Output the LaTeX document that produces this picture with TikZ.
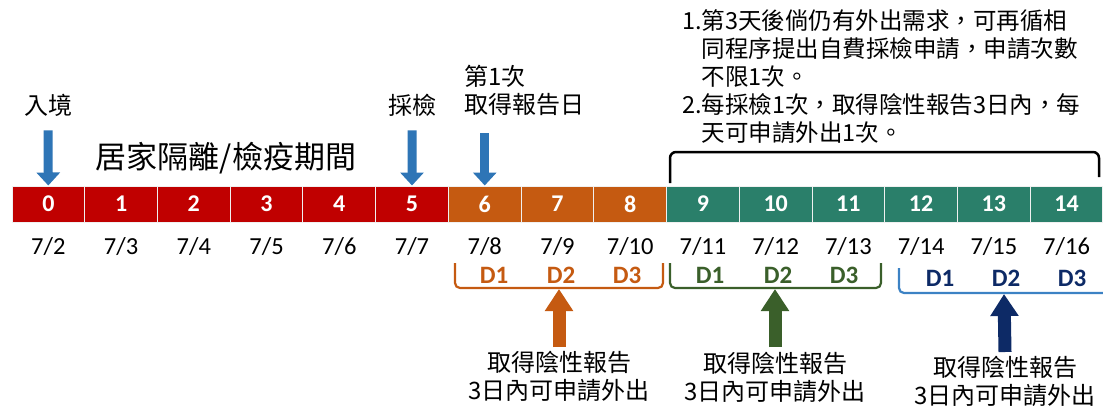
\documentclass[tikz,border=0pt]{standalone}
\usepackage{fontspec}
\setmainfont{Carlito}
\newfontfamily\cjk{Noto Sans CJK TC}
\usetikzlibrary{arrows.meta}
\definecolor{qred}{HTML}{C00000}
\definecolor{qorange}{HTML}{C55A11}
\definecolor{qteal}{HTML}{2A7F6A}
\definecolor{qdgreen}{HTML}{3A5F2A}
\definecolor{qnavy}{HTML}{0D2A66}
\definecolor{qblue}{HTML}{2E75B6}
\definecolor{qlblue}{HTML}{3C82C4}
\begin{document}
\begin{tikzpicture}[x=1pt,y=-1pt,
  cell/.style={draw=white!88!gray, line width=1pt, minimum width=72.73pt, minimum height=36pt, inner sep=0pt, text=white, font=\fontsize{24}{24}\selectfont\bfseries},
  datelbl/.style={inner sep=0pt, font=\fontsize{24.5}{24.5}\selectfont},
  dlbl/.style={inner sep=0pt, font=\fontsize{25}{25}\selectfont\bfseries},
  cjklbl/.style={inner sep=0pt, align=center, font=\cjk\fontsize{24}{28}\selectfont},
  downarrow/.style={draw=qblue, line width=9pt, -{Triangle[width=23pt,length=13pt]}},
  uparrow/.style={line width=13pt, -{Triangle[width=27pt,length=22pt]}},
  bracketline/.style={line width=2.2pt, rounded corners=5pt}
]
\useasboundingbox (0,0) rectangle (1103,405);
% cells
\foreach \i in {0,...,14}{
  \ifnum\i<6 \def\cc{qred}\else\ifnum\i<9 \def\cc{qorange}\else\def\cc{qteal}\fi\fi
  \node[cell, fill=\cc] (c\i) at ({12+72.73*(\i+0.5)},204) {\i};
  \pgfmathtruncatemacro{\dd}{\i+2}
  \node[datelbl] (d\i) at ({12+72.73*(\i+0.5)},247) {7/\dd};
}
% top labels
\node[cjklbl] (entry) at (48,105) {入境};
\node[cjklbl] (sample) at (412,105) {採檢};
\node[cjklbl, align=left, anchor=west] (report) at (464,90) {第1次\\取得報告日};
\node[inner sep=0pt, font=\cjk\fontsize{31}{31}\selectfont] (period) at (226,158) {居家隔離/檢疫期間};
\draw[downarrow, shorten <=14pt] (entry) -- (c0);
\draw[downarrow, shorten <=14pt] (sample) -- (c5);
\draw[downarrow] (c6.north |- 0,133) coordinate (rtop) -- (c6);
% note
\node[anchor=north west, align=left, inner sep=0pt, font=\cjk\fontsize{23.5}{28}\selectfont] (note) at (682,9)
 {1.第3天後倘仍有外出需求，可再循相\\
  \phantom{1.}同程序提出自費採檢申請，申請次數\\
  \phantom{1.}不限1次。\\
  2.每採檢1次，取得陰性報告3日內，每\\
  \phantom{2.}天可申請外出1次。};
% black bracket
\draw[line width=2.5pt, rounded corners=6pt] (670,183) -- (670,152) -- (1099,152) -- (1099,177);
% D brackets
\draw[bracketline, qorange] (455,263) -- (455,288) -- (663,288) -- (663,263);
\draw[bracketline, qdgreen] (670,263) -- (670,288) -- (881,288) -- (881,263);
\draw[bracketline, qlblue] (899,268) -- (899,293) -- (1110,293);
\coordinate (ob) at (559,289);
\coordinate (gb) at (775,289);
\coordinate (bb) at (1004,294);
\foreach \x/\n in {494/1,561/2,627/3}{\node[dlbl, text=qorange] (od\n) at (\x,275) {D\n};}
\foreach \x/\n in {710/1,778/2,844/3}{\node[dlbl, text=qdgreen] (gd\n) at (\x,275) {D\n};}
\foreach \x/\n in {940/1,1006/2,1072/3}{\node[dlbl, text=qnavy] (bd\n) at (\x,278) {D\n};}
% bottom texts
\node[cjklbl] (otxt) at (559,376) {取得陰性報告\\3日內可申請外出};
\node[cjklbl] (gtxt) at (775,377) {取得陰性報告\\3日內可申請外出};
\node[cjklbl] (btxt) at (1005,381) {取得陰性報告\\3日內可申請外出};
\draw[uparrow, draw=qorange] (otxt.north |- 0,347) -- (ob);
\draw[uparrow, draw=qdgreen] (gtxt.north |- 0,347) -- (gb);
\draw[uparrow, draw=qnavy] (btxt.north |- 0,352) -- (bb);
\end{tikzpicture}
\end{document}
